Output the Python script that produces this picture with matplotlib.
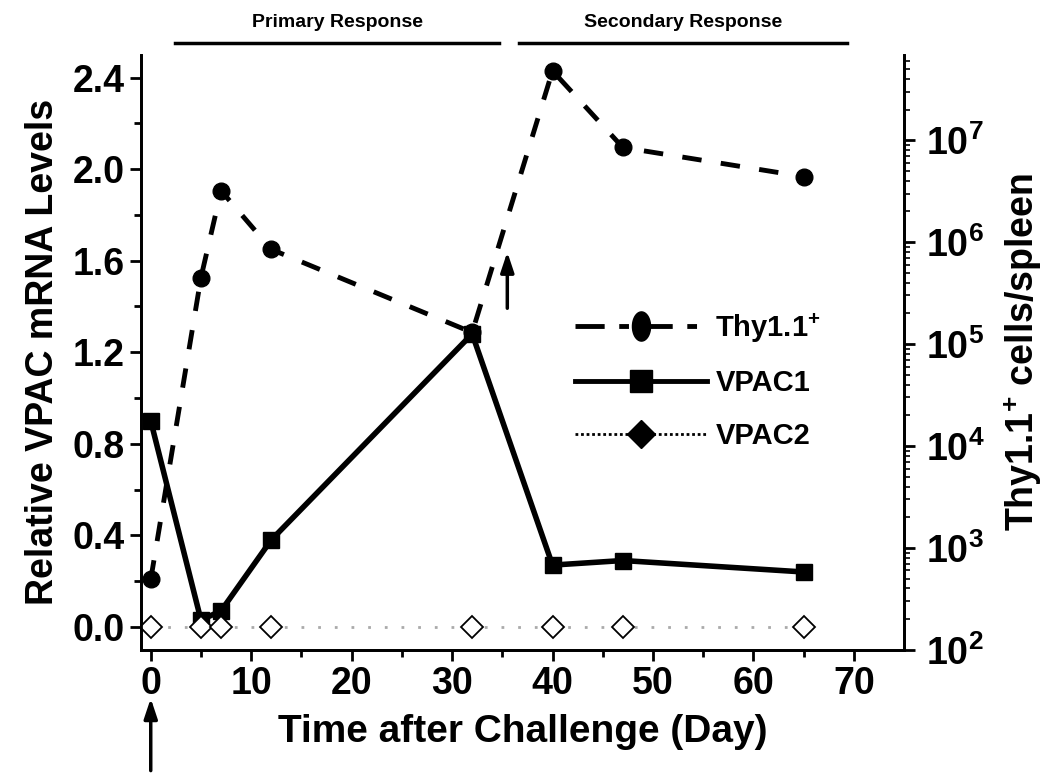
import numpy as np
import matplotlib
matplotlib.use("Agg")
import matplotlib.pyplot as plt
from matplotlib.path import Path
from matplotlib.lines import Line2D

plt.rcParams['font.family'] = ['Liberation Sans', 'DejaVu Sans']
plt.rcParams['font.weight'] = 'bold'
plt.rcParams['mathtext.fontset'] = 'custom'
plt.rcParams['mathtext.rm'] = 'Liberation Sans:bold'
plt.rcParams['mathtext.bf'] = 'Liberation Sans:bold'
plt.rcParams['mathtext.it'] = 'Liberation Sans:bold'

# data
days = [0, 5, 7, 12, 32, 40, 47, 65]
thy11 = [490, 4.5e5, 3.2e6, 8.5e5, 1.3e5, 4.8e7, 8.5e6, 4.4e6]   # cells/spleen (right, log)
vpac1 = [0.90, 0.03, 0.07, 0.38, 1.28, 0.27, 0.29, 0.24]         # relative mRNA (left)
vpac2 = [0.0, 0.0, 0.0, 0.0, 0.0, 0.0, 0.0, 0.0]
phases = ["Primary Response", "Secondary Response"]
phase_start = [2.4, 36.7]
phase_end = [34.7, 69.3]

# tall ellipse marker for Thy1.1 legend
t = np.linspace(0, 2 * np.pi, 60)
ellipse = Path(np.column_stack([0.62 * np.cos(t), np.sin(t)]))

fig = plt.figure(figsize=(10.5, 7.81), dpi=100)
ax = fig.add_axes([0.134, 0.168, 0.727, 0.762])
ax2 = ax.twinx()

ax.plot(days, vpac2, color='#aaaaaa', lw=2, dashes=(1, 5), zorder=2)
ax.plot(days, vpac2, ls='none', marker='D', ms=11, mfc='white', mec='black', mew=1.3, zorder=5)
ax.plot(days, vpac1, color='black', lw=4, marker='s', ms=11, zorder=4)
ax2.plot(days, thy11, color='black', lw=3.5, dashes=(4, 4), marker='o', ms=12, zorder=4)

ax.set_xlim(-1, 75)
ax.set_ylim(-0.1, 2.5)
ax2.set_yscale('log')
ax2.set_ylim(1e2, 10 ** 7.84)

ax.set_xticks(np.arange(0, 71, 10))
ax.set_xticks(np.arange(5, 71, 10), minor=True)
ax.set_yticks(np.arange(0, 2.41, 0.4))
ax.set_yticks(np.arange(0.2, 2.5, 0.4), minor=True)
ax.set_yticklabels(['%.1f' % v for v in np.arange(0, 2.41, 0.4)])
ax2.set_yticks([1e2, 1e3, 1e4, 1e5, 1e6, 1e7])

for a in (ax, ax2):
    a.spines['top'].set_visible(False)
    a.spines['left'].set_linewidth(2)
    a.spines['right'].set_linewidth(2)
    a.spines['bottom'].set_linewidth(2)
    a.tick_params(which='major', direction='out', length=8, width=2, labelsize=27)
    a.tick_params(which='minor', direction='out', length=5, width=2)
ax2.tick_params(axis='y', which='major', pad=8)
ax2.tick_params(axis='y', which='minor', length=4, width=1.2)
for lab in ax.get_xticklabels() + ax.get_yticklabels() + ax2.get_yticklabels():
    lab.set_fontweight('bold')

ax.set_xlabel("Time after Challenge (Day)", fontsize=28, fontweight='bold', labelpad=9)
ax.set_ylabel("Relative VPAC mRNA Levels", fontsize=27, fontweight='bold', labelpad=8)
ax2.set_ylabel("Thy1.1$^{+}$ cells/spleen", fontsize=27, fontweight='bold', labelpad=12)

# phase brackets above the plot
for name, s, e in zip(phases, phase_start, phase_end):
    ax.plot([s, e], [2.55, 2.55], color='black', lw=2.5, clip_on=False)
    ax.text((s + e) / 2, 2.64, name, ha='center', va='center', fontsize=14, fontweight='bold')

# challenge arrows
ax.annotate('', xy=(0, -0.3), xytext=(0, -0.64), xycoords='data', annotation_clip=False,
            arrowprops=dict(arrowstyle='-|>,head_length=1.2,head_width=0.4', color='black', lw=2.5))
ax.annotate('', xy=(35.5, 1.65), xytext=(35.5, 1.38),
            arrowprops=dict(arrowstyle='-|>,head_length=1.2,head_width=0.4', color='black', lw=2.5))

handles = [
    Line2D([], [], color='black', lw=3.5, dashes=(6, 3, 2, 3), marker=ellipse, ms=21),
    Line2D([], [], color='black', lw=3.5, marker='s', ms=16),
    Line2D([], [], color='#000000', lw=2, dashes=(1, 1), marker='D', ms=14, mfc='black'),
]
labels = ["Thy1.1$^{+}$", "VPAC1", "VPAC2"]
ax.legend(handles, labels, loc='center left', bbox_to_anchor=(0.535, 0.452), frameon=False,
          handlelength=4.5, labelspacing=0.85, prop={'weight': 'bold', 'size': 21},
          handletextpad=0.3)

fig.savefig("out.png", dpi=100)
